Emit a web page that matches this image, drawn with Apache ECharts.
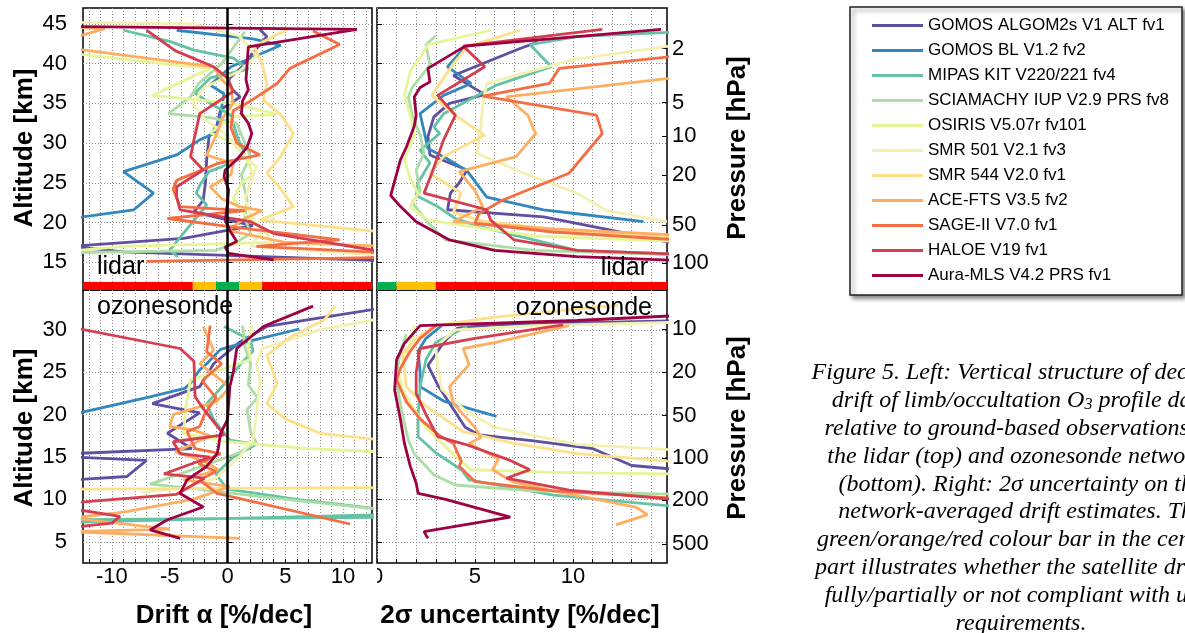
<!DOCTYPE html>
<html><head><meta charset="utf-8">
<script src="https://cdn.jsdelivr.net/npm/echarts@6/dist/echarts.min.js"></script>
<style>html,body{margin:0;padding:0;background:#fff;overflow:hidden}#c{width:1185px;height:633px}</style>
</head><body><div id="c"></div>
<script>
const instruments = ['GOMOS ALGOM2s V1 ALT fv1','GOMOS BL V1.2 fv2','MIPAS KIT V220/221 fv4','SCIAMACHY IUP V2.9 PRS fv8','OSIRIS V5.07r fv101','SMR 501 V2.1 fv3','SMR 544 V2.0 fv1','ACE-FTS V3.5 fv2','SAGE-II V7.0 fv1','HALOE V19 fv1','Aura-MLS V4.2 PRS fv1'];
const colors = ['#5e4fa2','#3288bd','#66c2a5','#abdda4','#e6f598','#f3f1b2','#fee08b','#fdae61','#f46d43','#d53e4f','#9e0142'];

// each profile: [value, altitude km]
const lidarDrift = [
 [[2.8,44.3],[3.4,43.4],[2.3,41.5],[1.2,39.5],[0.2,38.2],[0,37.3],[1.1,35.8],[-0.6,34.2],[-0.9,32.3],[-1.6,30.8],[-1.8,27.9],[-1.9,25.1],[-2.1,22.8],[-2.9,21.3],[2.2,19.6],[-3.8,18],[-13.5,17],[-9,16.3],[13.5,15.2]],
 [[-4.4,44.2],[2.2,43.1],[4.6,42.3],[0.3,39.6],[-1.5,37.3],[-0.3,36.2],[-0.6,33.7],[-0.9,31.4],[-2.4,30.4],[-4.4,28.5],[-9,26.4],[-6.4,23.7],[-8.1,21.6],[-13.5,20.5]],
 [[-9,44.2],[-5,42.8],[-2.9,41.7],[0.5,40.7],[1.8,39.3],[-1.5,38.2],[-2.8,36.3],[-1.5,35],[0.3,33.5],[0.8,31],[1.5,28.5],[-0.5,27],[-1.6,26.4],[-2.4,24.7],[-2.7,23.7],[-1.8,22.2],[-3.5,19.2],[-5,16.5],[-4.3,15.7]],
 [[1.5,44],[0.5,42],[-0.5,40],[-2.5,37.5],[-3.2,35.8],[-5.1,33.7],[-1.5,33.2],[0.8,32.5],[1.5,30],[2,28.3],[1.2,26],[1.7,22.8],[1.5,20.5],[2,18.6],[0.5,17.3],[-1,16.5],[-13.5,16.2]],
 [[-13.5,41.3],[-3,39.6],[-1.5,39.4],[-6.5,36],[0.5,35],[4.3,33.6],[0.5,33.3],[-1.5,31.3],[0.5,30],[1.5,28.5],[2.2,26],[1.2,25],[0.5,23],[1.5,21],[3.4,18.6],[3.8,17.5],[-9,17],[-13.5,16.4]],
 [[-13.5,45.2],[-3,45.0],[1,43.5],[2.5,41],[1,39],[-2,37],[-3,35],[-2,33],[0,31],[1,29],[2.5,27],[2,25],[1.5,23],[2,21],[3,19],[2,17],[13.5,15.8]],
 [[5.2,44.3],[2.3,42.2],[3,40],[3.4,37.5],[3.1,35.4],[4.6,33.6],[5.7,31.2],[4.6,28.3],[3.4,26.2],[4.3,24.8],[5.7,22],[2.8,20.3],[13.5,18.8]],
 [[-13.5,44.6],[-10.6,44.4],[-13.5,43.2],[-14,42],[-1.2,39.6],[-0.5,38],[0.3,36.8],[0.5,35],[-0.5,33],[-0.9,31.2],[-1.8,28.5],[0.5,27.4],[0.3,26],[-1.5,24.5],[-0.5,23],[1,22],[3,21.5],[1.5,20.5],[0,19],[5,17.5],[13.5,17]],
 [[7.4,44.1],[9.7,42.4],[5.4,39.4],[4.3,37.5],[2,35.3],[0.5,34.1],[0.3,32],[0.8,30],[2.8,28.5],[-0.9,27.4],[-4.4,25.3],[-4.7,24.2],[-4.1,22],[1.5,21.5],[-5.2,20.5],[0,19.5],[9.7,17.8],[2.5,17],[13.5,16.2],[13.5,15.6],[-7,15.1]],
 [[-7,44.2],[-4.5,41.6],[-1.2,39.6],[0,38.2],[0.5,36.5],[-2.4,33.7],[-2.9,30.4],[-3.2,28.3],[-2.1,26.6],[-4.4,24.5],[-4.4,23.2],[-4.1,21.6],[2,20.1],[4,18.6],[13.5,16.3]],
 [[-30,44.9],[11.2,44.3],[1.8,42.1],[1.7,40],[1.6,38],[1.8,36.7],[1.3,35.3],[1.2,33.7],[1.8,32.5],[2.1,31.2],[1.7,29.5],[0.8,27.9],[-0.2,26.6],[-0.3,25.8],[0.1,24.1],[0,22.4],[-0.2,20.3],[0.2,19],[0.8,17.6],[-0.2,16.9],[0.1,16.1],[4,15.3]]
];
const lidarUncert = [
 [[8.2,42.7],[7.3,41.9],[3.9,38.5],[5.5,36.1],[3.7,35],[2.9,33.3],[2.6,30.8],[2.7,28.5],[4.6,26.6],[4.2,25],[3.75,23.7],[3.6,21.6],[8.5,20.7],[12,19],[15.5,17.2]],
 [[4.5,42.1],[3.6,39.6],[4.8,37.5],[3.4,36],[2.2,33.7],[2.4,31.5],[2.6,29.3],[3.6,28],[4.6,26.5],[5.6,23.2],[8.5,21.6],[10.2,21.1],[13.6,20.1]],
 [[15.5,44],[10.2,43.4],[7.8,42.4],[8.9,39.6],[6.1,37.3],[3.4,33.7],[2.9,32],[3.2,31.2],[2.2,29.1],[2.7,27.5],[2.1,25],[2,23.4],[3.1,22],[4,20.5],[5.2,19.5],[10.2,16.5],[15.5,16]],
 [[3,43.5],[2.5,42.4],[2.7,39.8],[1.8,37],[1.6,35.8],[1.8,33.5],[2.2,31],[2.4,28.7],[2,26.6],[2.2,24],[1.8,22.5],[2.6,20],[3.5,17.8],[8,16.5],[15.5,15.9]],
 [[5.8,44.2],[2.6,42.4],[2.2,40.8],[1.7,39.1],[1.4,36],[1.7,33.5],[1.9,31],[1.4,27.9],[1.7,25.5],[2.1,23.7],[1.7,22],[2.6,20.3],[8,18.3],[15.5,17.6]],
 [[15.5,42.4],[10,40.5],[5.6,37.5],[5.4,35],[5.3,32],[5.1,28.7],[7.5,26.2],[10.2,23.7],[11.7,21.5],[14.8,20.1]],
 [[7.3,44.2],[4.6,42.1],[3.9,40],[2.8,36],[4.1,33.3],[5.5,31],[3.4,28.3],[2.7,26.2],[4.3,23.7],[3.9,21.3],[5.3,20.2],[10,18.8],[15.5,18.2]],
 [[15.5,38.3],[6.6,35.8],[7.7,33.5],[8.1,31.2],[7.1,28.3],[4.2,26.4],[5,24],[5.4,22],[3.9,20.1],[9,19.2],[15.5,18.4]],
 [[15.5,41],[9.3,39.4],[8.8,37.5],[5.4,35.9],[11.2,33.5],[11.5,31.2],[9.8,26.2],[6.4,22.8],[5.2,21.1],[5,19.9],[9,18.8],[15.5,17.8]],
 [[11.5,44.3],[4.4,42.2],[5.5,39.6],[3.1,36],[4,33.5],[3.4,30.4],[2.8,26.2],[2.4,23.7],[5.6,21.6],[5.8,20.3],[7,17.8],[10.2,16.5],[15.5,16]],
 [[14.5,44.3],[4.5,42.2],[2.6,39.4],[2.7,37.7],[2.2,37],[1.9,35.8],[2.0,33.5],[1.9,32.1],[1.5,29.5],[1.2,27.9],[0.7,23.4],[1.2,22],[2.0,20.1],[3.7,17.8],[6,16.5],[10.2,15.7],[15.5,15.2]]
];
const sondeDrift = [
 [[13.5,32.6],[8,31.4],[3.4,30.4],[1,28.5],[-1.2,26],[-2.4,23.3],[-6.5,21.3],[-2.4,20.2],[-5.2,17.8],[-3.1,16],[-13.5,15.4],[-13.5,15],[-7,14.6],[-8.7,12.7],[-13.5,12.3]],
 [[6.2,30.1],[2,28.7],[-0.6,27.7],[-1.8,26],[-2.4,25.3],[-3.2,23.7],[-3.7,23.1],[-6.7,22.1],[-13.5,20]],
 [[-0.3,30.4],[2,28.8],[2.2,27.5],[1.1,25.9],[-0.6,23.1],[-1.8,21.3],[-1.2,19.4],[0.2,17],[2.5,16.5],[0.5,15],[-1,13],[0,11.2],[6,10],[13.5,8.8],[13.5,8.2],[-13.5,7.3],[-13.5,7.6],[13.5,7.9]],
 [[1.3,30.5],[1.5,28],[2,26],[1.8,23.5],[2.6,22],[1.7,20.6],[2,18],[2.5,16.7],[1,15.5],[-2,14],[-6.7,11.8],[-3,11.3],[3,10.3],[13.5,8.8]],
 [[2.1,30.5],[1.8,28],[2,26.5],[-3.2,24.1],[-3.6,21],[-3.8,17.8],[0,16.8],[6.9,16],[13.5,15.6]],
 [[13.5,31.4],[8,30],[3,27.8],[2.5,26],[2.8,24],[2.5,20],[2.2,17],[1,15],[-1,12.5],[-4,11.3],[-7.5,10.8]],
 [[9.3,32.8],[8.4,31.2],[5.5,29.2],[3.4,27],[4.3,23.7],[3.4,21.3],[5,19.5],[8,17.8],[13.5,17],[20,14],[13.5,11.4],[-13.5,11.2]],
 [[-2.1,30.4],[-1.2,27.6],[-2.4,26],[-0.5,24],[0.2,23.2],[-1,21.5],[-4.7,20],[-5,18.6],[-3,18.2],[-1.5,17.5],[-4.5,15.6],[-2,14.5],[-0.8,13.5],[-3.8,12.3],[0.2,11.5],[-3,10],[-9,8.5],[-13.5,7.8],[-5,6.5],[-13.5,6.2],[1.1,5.4]],
 [[-1.5,30.5],[-1.8,27.4],[-0.5,26],[-2.2,24],[-1,22],[-2,20],[-2.4,18.6],[-3.5,18],[-2.8,16],[-0.6,15.4],[-2.5,14.2],[-1,13.3],[-2.4,12.3],[-0.9,10.7],[10.6,7.1]],
 [[-13.5,30.3],[-4.1,27.8],[-2.9,26.3],[-2.8,22.1],[-2.1,20.7],[-0.3,17.6],[-4.7,16.8],[-4.1,15.4],[-1.5,15],[-5.5,13],[-2,12.5],[-4.4,10.6],[-13.5,9.6],[-13.5,8.9],[-9.3,8],[-10,7.2],[-13.5,6.7]],
 [[7.4,32.8],[3.1,30.4],[0.8,27.8],[0.5,25],[0.2,23.3],[0.1,21.3],[0,19.4],[-0.6,17.8],[-0.8,16],[-0.9,15.4],[-1.8,13.9],[-3.5,12.3],[-4.1,10.7],[-2.1,9.1],[-5.2,7.6],[-6.7,6.4],[-4.1,5.4]]
];
const sondeUncert = [
 [[15.5,31.1],[6,30.6],[4.1,30.2],[3.4,28.5],[2.6,25.8],[3.1,23.5],[3.8,21],[4.5,18.5],[5.2,17.6],[8,16.9],[11,16],[13,14],[15.5,13.5]],
 [[3.3,30.5],[2.5,29],[2.1,27.5],[2.2,25],[2.2,23.3],[3.4,21.6],[6.1,19.8]],
 [[4.6,30.4],[3,28.5],[2.5,26.5],[2.2,23.3],[2.1,20],[2.1,17.4],[3,15.5],[4.3,13.5],[4.7,12.3],[9,10.5],[15.5,9.1]],
 [[1.5,29.5],[1.2,27.5],[1,25],[1.1,22.5],[1.3,20],[1.6,17],[1.9,15.4],[2.9,12.9],[4,11.7],[8,11],[15.5,10.6]],
 [[1.9,30.5],[1.8,29],[1.5,27],[1.1,24.9],[1.3,23],[1.6,21.7],[2.5,18.5],[3.8,15.5],[4.8,13.5],[9,13.2],[15.5,13]],
 [[15.5,30.9],[8,30.5],[4,30],[3,28],[3.1,25.7],[3.3,23],[4.5,20.5],[6,18.5],[10.2,16.5],[15.5,15.8]],
 [[12.3,32.9],[6,31.5],[3,30.5],[2,29],[1.3,27.2],[1.5,23.3],[2.5,21],[4.4,18],[7,16.6],[10.2,15.4],[15.5,14.4]],
 [[9.8,30.5],[6,28.5],[4.4,27.8],[4.7,25.9],[3.7,23.3],[3.9,21.3],[5,18.5],[5.3,17.3],[4.7,16.6],[6.2,14.8],[5.9,13.5],[6.9,12.1],[9,11],[13.2,9.1],[13.8,8.2],[12.2,7]],
 [[3,30.5],[2.2,29],[1.7,27.5],[1.2,25.5],[1,24.1],[1.5,21.5],[2.2,19.5],[3.2,17.5],[3.9,16.6],[4.3,14.5],[4.2,13.9],[5,12.1],[9,11],[15.5,10.1]],
 [[9.5,30.6],[5,29],[2.2,27.8],[2,25],[2,22.5],[2.5,20],[3.1,17.4],[4.5,16.5],[6.8,14.6],[7.8,13.5],[6.6,12.5],[9.8,11.1],[15.5,9.9]],
 [[15.5,31.7],[10.2,31.1],[2.2,30.5],[1.4,28.4],[1,26.5],[0.9,22.9],[1.2,19.4],[1.4,16.6],[1.7,13.9],[2,11.9],[2.1,10.7],[3.5,10],[6.8,7.9],[2.4,6.2],[2.6,5.4]]
];

const driftLabels = [-10,-5,0,5,10];
const driftGrid = [-12,-11,-10,-9,-8,-7,-6,-5,-4,-3,-2,-1,0,1,2,3,4,5,6,7,8,9,10,11,12];
const uncertLabels = [0,5,10];
const uncertGrid = [0,1,2,3,4,5,6,7,8,9,10,11,12,13,14];
const lidarAltTicks = [15,20,25,30,35,40,45];
const sondeAltTicks = [5,10,15,20,25,30];
const lidarPressure = ['2','5','10','20','50','100'];
const lidarPressureAlt = [41.9,35.1,30.9,26.0,19.7,14.9];
const sondePressure = ['10','20','50','100','200','500'];
const sondePressureAlt = [30.1,25.0,19.9,14.9,9.9,4.7];
// compliance colour bars: [from, to, class]
const driftBands = [[-12.5,-3,'red'],[-3,-1,'orange'],[-1,1,'green'],[1,3,'orange'],[3,12.5,'red']];
const uncertBands = [[0,1,'green'],[1,3,'orange'],[3,14.8,'red']];
const bandAlt = [11.5, 12.5];
const captionLines = [
 'Figure 5. Left: Vertical structure of decadal',
 'drift of limb/occultation O{s|3} profile data',
 'relative to ground-based observations by',
 'the lidar (top) and ozonesonde networks',
 '(bottom). Right: 2σ uncertainty on the',
 'network-averaged drift estimates. The',
 'green/orange/red colour bar in the central',
 'part illustrates whether the satellite drift is',
 'fully/partially or not compliant with user',
 'requirements.'
];

const bandColor = {green:'#00b050', orange:'#ffc000', red:'#ff0000'};
const SANS = 'Liberation Sans, Arial, sans-serif';
const gridLine = {show:true, lineStyle:{color:'#8c8c8c', type:[1,2], width:1}};

function xAxis(gi, min, max, gridVals, labels, showLabels){
  return {type:'value', gridIndex:gi, min, max, position:'bottom',
    axisLine:{show:false}, splitLine:gridLine,
    axisTick:{show:true, inside:true, length:4, customValues:gridVals, lineStyle:{color:'#000'}},
    axisLabel:{show:showLabels, customValues:labels, fontSize:22, color:'#000', margin:3, fontFamily:SANS}};
}
function yAxis(gi, min, max, ticks, showLabels){
  return {type:'value', gridIndex:gi, min, max, position:'left',
    axisLine:{show:false}, splitLine:gridLine,
    axisTick:{show:true, inside:true, length:5, customValues:ticks, lineStyle:{color:'#000'}},
    axisLabel:{show:showLabels, customValues:ticks, fontSize:22, color:'#000', margin:16, fontFamily:SANS}};
}
function pAxis(gi, min, max, alts, labels){
  return {type:'value', gridIndex:gi, min, max, position:'right',
    axisLine:{show:false}, splitLine:{show:false},
    axisTick:{show:true, inside:true, length:5, customValues:alts, lineStyle:{color:'#000'}},
    axisLabel:{show:true, customValues:alts, fontSize:22, color:'#000', margin:5, fontFamily:SANS,
      formatter:(v)=>{const i = alts.findIndex(a=>Math.abs(a-v)<1e-6); return i>=0 ? labels[i] : '';}}};
}

const grids = [
  {left:83, top:8, width:289, height:282},
  {left:377, top:8, width:290, height:282},
  {left:83, top:290, width:289, height:273},
  {left:377, top:290, width:290, height:273}
].map(g=>Object.assign(g,{show:true, borderColor:'#000', borderWidth:1.5, backgroundColor:'transparent'}));

const xAxes = [
  xAxis(0,-12.5,12.5,driftGrid,driftLabels,false),
  xAxis(1,0,14.8,uncertGrid,uncertLabels,false),
  xAxis(2,-12.5,12.5,driftGrid,driftLabels,true),
  xAxis(3,0,14.8,uncertGrid,uncertLabels,true)
];
const yAxes = [
  yAxis(0,11.5,47,lidarAltTicks,true),
  yAxis(1,11.5,47,lidarAltTicks,false),
  pAxis(1,11.5,47,lidarPressureAlt,lidarPressure),
  yAxis(2,2.5,34.7,sondeAltTicks,true),
  yAxis(3,2.5,34.7,sondeAltTicks,false),
  pAxis(3,2.5,34.7,sondePressureAlt,sondePressure)
];

const panels = [lidarDrift, lidarUncert, sondeDrift, sondeUncert];
const yIndexOf = [0,1,3,4];
const series = [];
panels.forEach((pd,p)=>{
  pd.forEach((prof,i)=>{
    series.push({type:'line', name:instruments[i], xAxisIndex:p, yAxisIndex:yIndexOf[p],
      data:prof, symbol:'none', silent:true, clip:true,
      lineStyle:{color:colors[i], width:2.8}, itemStyle:{color:colors[i]}, z:2+i*0.01});
  });
});
// zero line in drift panels
[0,2].forEach(p=>{
  series.push({type:'line', xAxisIndex:p, yAxisIndex:yIndexOf[p], data:[], z:4, silent:true,
    markLine:{silent:true, symbol:'none', label:{show:false}, animation:false,
      lineStyle:{color:'#000', width:2.5, type:'solid'}, data:[{xAxis:0}]}});
});
// compliance colour bars
function bandSeries(xi, yi, bands){
  return {type:'custom', xAxisIndex:xi, yAxisIndex:yi, z:10, silent:true, clip:false,
    data:bands.map(b=>[b[0], b[1]]),
    renderItem:(params, api)=>{
      const a = api.coord([api.value(0), bandAlt[1]]);
      const b = api.coord([api.value(1), bandAlt[0]]);
      return {type:'rect', shape:{x:a[0], y:a[1], width:b[0]-a[0], height:b[1]-a[1]},
        style:{fill:bandColor[bands[params.dataIndex][2]]}};
    }};
}
series.push(bandSeries(0,0,driftBands));
series.push(bandSeries(1,1,uncertBands));

const graphics = [];
function txt(text, x, y, opt){
  graphics.push(Object.assign({type:'text', x, y, z:50, style:Object.assign({text, fill:'#000', fontFamily:SANS,
    textAlign:'center', textVerticalAlign:'middle'}, opt.style||{})}, opt.el||{}));
}
const boldTitle = {fontSize:26, fontWeight:'bold'};
txt('Altitude [km]', 25, 148, {style:boldTitle, el:{rotation:Math.PI/2}});
txt('Altitude [km]', 25, 428, {style:boldTitle, el:{rotation:Math.PI/2}});
txt('Pressure [hPa]', 738, 148, {style:boldTitle, el:{rotation:Math.PI/2}});
txt('Pressure [hPa]', 738, 428, {style:boldTitle, el:{rotation:Math.PI/2}});
txt('Drift α [%/dec]', 224, 616, {style:boldTitle});
txt('2σ uncertainty [%/dec]', 520, 616, {style:boldTitle});
txt('lidar', 97, 267, {style:{fontSize:25, textAlign:'left'}});
txt('lidar', 648, 268, {style:{fontSize:25, textAlign:'right'}});
txt('ozonesonde', 97, 307, {style:{fontSize:25, textAlign:'left'}});
txt('ozonesonde', 652, 308, {style:{fontSize:25, textAlign:'right'}});
// hide left half of the clipped "0" tick label
graphics.push({type:'rect', z:60, shape:{x:360, y:564, width:17, height:24}, style:{fill:'#fff'}});
// legend frame
graphics.push({type:'rect', z:1, shape:{x:850, y:7, width:332, height:288},
  style:{fill:'#fff', stroke:'#222', lineWidth:1.5, shadowBlur:4, shadowOffsetX:3, shadowOffsetY:3, shadowColor:'rgba(0,0,0,0.45)'}});
// caption
captionLines.forEach((line,i)=>{
  graphics.push({type:'text', x:1021, y:373 + i*27.8, z:50, style:{text:line, fill:'#000',
    fontFamily:'Liberation Serif, Times New Roman, serif', fontStyle:'italic', fontSize:24,
    textAlign:'center', textVerticalAlign:'middle',
    rich:{s:{fontSize:16, fontStyle:'italic', fontFamily:'Liberation Serif, serif', lineHeight:6, verticalAlign:'bottom'}}}});
});

const chart = echarts.init(document.getElementById('c'), null, {renderer:'canvas'});
chart.setOption({
  animation:false,
  backgroundColor:'#fff',
  textStyle:{fontFamily:SANS},
  grid:grids, xAxis:xAxes, yAxis:yAxes,
  legend:{data:instruments, orient:'vertical', left:872, top:17, padding:0, itemWidth:51, itemHeight:3, itemGap:8,
    icon:'rect', selectedMode:false, z:5,
    textStyle:{fontSize:17, lineHeight:17, color:'#000', fontFamily:SANS}},
  graphic:graphics,
  series
});
</script></body></html>
